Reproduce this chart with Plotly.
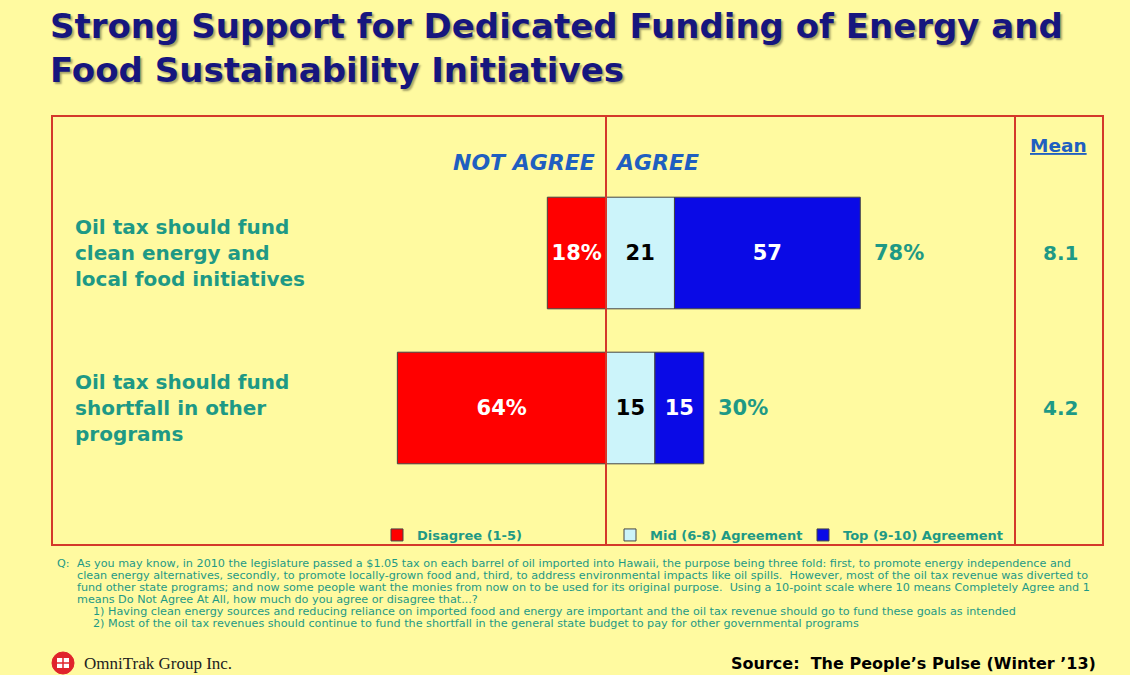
import plotly.graph_objects as go

# ---------------- data ----------------
statements = [
    "Oil tax should fund<br>clean energy and<br>local food initiatives",
    "Oil tax should fund<br>shortfall in other<br>programs",
]
disagree = [18, 64]          # Disagree (1-5), %
mid_agree = [21, 15]         # Mid (6-8) Agreement, %
top_agree = [57, 15]         # Top (9-10) Agreement, %
mean_scores = ["8.1", "4.2"]
series_names = ["Disagree (1-5)", "Mid (6-8) Agreement", "Top (9-10) Agreement"]

title_text = ("Strong Support for Dedicated Funding of Energy and<br>"
              "Food Sustainability Initiatives")
question_lines = [
    "As you may know, in 2010 the legislature passed a $1.05 tax on each barrel of oil imported into Hawaii, the purpose being three fold: first, to promote energy independence and",
    "clean energy alternatives, secondly, to promote locally-grown food and, third, to address environmental impacts like oil spills.  However, most of the oil tax revenue was diverted to",
    "fund other state programs; and now some people want the monies from now on to be used for its original purpose.  Using a 10-point scale where 10 means Completely Agree and 1",
    "means Do Not Agree At All, how much do you agree or disagree that...?",
]
item_lines = [
    "1) Having clean energy sources and reducing reliance on imported food and energy are important and the oil tax revenue should go to fund these goals as intended",
    "2) Most of the oil tax revenues should continue to fund the shortfall in the general state budget to pay for other governmental programs",
]
source_text = "Source:  The People\u2019s Pulse (Winter \u201913)"
company_text = "OmniTrak Group Inc."

# ---------------- style ----------------
BG = "#FFFAA0"
RED_LINE = "#D4382A"
TEAL = "#1E9985"
BLUE_HDR = "#1F5FC0"
NAVY = "#16167E"
FONT = "DejaVu Sans"

W, H = 1130, 675
L, R, T, B = 52, 1103, 116, 545      # plot box in px


def px_x(px):
    return (px - L) / (R - L)


def px_y(py):
    return (B - py) / (B - T)


fig = go.Figure()

bar_line = dict(color="#444444", width=1)
fig.add_trace(go.Bar(
    y=statements, x=[-v for v in disagree], orientation="h",
    name=series_names[0], marker=dict(color="#FF0000", line=bar_line),
    text=[f"{v}%" for v in disagree], textposition="inside", insidetextanchor="middle",
    textfont=dict(family=FONT, size=21, color="white", weight="bold"),
    constraintext="none", width=0.72, legend="legend", hoverinfo="skip",
))
fig.add_trace(go.Bar(
    y=statements, x=mid_agree, orientation="h",
    name=series_names[1], marker=dict(color="#CCF4FA", line=bar_line),
    text=[str(v) for v in mid_agree], textposition="inside", insidetextanchor="middle",
    textfont=dict(family=FONT, size=21, color="black", weight="bold"),
    constraintext="none", width=0.72, legend="legend2", hoverinfo="skip",
))
fig.add_trace(go.Bar(
    y=statements, x=top_agree, orientation="h",
    name=series_names[2], marker=dict(color="#0A0AE6", line=bar_line),
    text=[str(v) for v in top_agree], textposition="inside", insidetextanchor="middle",
    textfont=dict(family=FONT, size=21, color="white", weight="bold"),
    constraintext="none", width=0.72, legend="legend3", hoverinfo="skip",
))

annotations = []
# net agree labels
for s, m, t in zip(statements, mid_agree, top_agree):
    annotations.append(dict(
        x=m + t, y=s, xref="x", yref="y", text=f"{m + t}%", showarrow=False,
        xanchor="left", xshift=12,
        font=dict(family=FONT, size=21, color=TEAL, weight="bold")))
# mean column
for s, mv in zip(statements, mean_scores):
    annotations.append(dict(
        x=px_x(1060), y=s, xref="paper", yref="y", text=mv, showarrow=False,
        xanchor="center", font=dict(family=FONT, size=20, color=TEAL, weight="bold")))
annotations.append(dict(
    x=px_x(1058), y=px_y(145), xref="paper", yref="paper", text="Mean", showarrow=False,
    xanchor="center", yanchor="middle",
    font=dict(family=FONT, size=18.5, color=BLUE_HDR, weight="bold", lineposition="under")))
# NOT AGREE / AGREE headers
hdr_font = dict(family=FONT, size=22, color=BLUE_HDR, weight="bold", style="italic")
annotations.append(dict(
    x=0, y=px_y(163), xref="x", yref="paper", text="NOT AGREE", showarrow=False,
    xanchor="right", xshift=-9, yanchor="middle", font=hdr_font))
annotations.append(dict(
    x=0, y=px_y(163), xref="x", yref="paper", text="AGREE", showarrow=False,
    xanchor="left", xshift=7, yanchor="middle", font=hdr_font))
# question footnote
foot_font = dict(family=FONT, size=11.2, color=TEAL)
annotations.append(dict(
    x=px_x(55), y=px_y(563), xref="paper", yref="paper", text="Q:", showarrow=False,
    xanchor="left", yanchor="middle", font=foot_font))
for line, yy in zip(question_lines, [563, 575, 587, 599]):
    annotations.append(dict(
        x=px_x(75), y=px_y(yy), xref="paper", yref="paper", text=line, showarrow=False,
        xanchor="left", yanchor="middle", font=foot_font))
for line, yy in zip(item_lines, [611, 623]):
    annotations.append(dict(
        x=px_x(91), y=px_y(yy), xref="paper", yref="paper", text=line, showarrow=False,
        xanchor="left", yanchor="middle", font=foot_font))
# footer
annotations.append(dict(
    x=px_x(82), y=px_y(663), xref="paper", yref="paper", text=company_text, showarrow=False,
    xanchor="left", yanchor="middle", font=dict(family="Liberation Serif", size=17, color="#222222")))
annotations.append(dict(
    x=px_x(1098), y=px_y(663), xref="paper", yref="paper", text=source_text, showarrow=False,
    xanchor="right", yanchor="middle", font=dict(family=FONT, size=16, color="black", weight="bold")))

shapes = [
    # outer box
    dict(type="rect", xref="paper", yref="paper", x0=0, x1=1, y0=0, y1=1,
         line=dict(color=RED_LINE, width=2), layer="above"),
    # zero line
    dict(type="line", xref="x", yref="paper", x0=0, x1=0, y0=0, y1=1,
         line=dict(color=RED_LINE, width=2), layer="above"),
    # mean column separator
    dict(type="line", xref="paper", yref="paper", x0=px_x(1015), x1=px_x(1015), y0=0, y1=1,
         line=dict(color=RED_LINE, width=2)),
    # logo
    dict(type="circle", xref="paper", yref="paper",
         x0=px_x(52), x1=px_x(74), y0=px_y(674), y1=px_y(652),
         fillcolor="#E0242C", line=dict(color="#E0242C", width=1)),
    dict(type="rect", xref="paper", yref="paper",
         x0=px_x(57), x1=px_x(69), y0=px_y(668), y1=px_y(658),
         fillcolor="white", line=dict(color="white", width=0)),
    dict(type="line", xref="paper", yref="paper",
         x0=px_x(63), x1=px_x(63), y0=px_y(668), y1=px_y(658),
         line=dict(color="#E0242C", width=1.5)),
    dict(type="line", xref="paper", yref="paper",
         x0=px_x(57), x1=px_x(69), y0=px_y(663), y1=px_y(663),
         line=dict(color="#E0242C", width=1.5)),
]

ppu = 3.26  # pixels per percentage point
x_range = [-(606 - L) / ppu, (R - 606) / ppu]
row_px = 155.0
y_range = [-(B - 408) / row_px, 1 + (253 - T) / row_px]

legend_font = dict(family=FONT, size=13, color=TEAL, weight="bold")


def leg(px):
    return dict(x=px_x(px), y=px_y(535), xanchor="left", yanchor="middle",
                orientation="h", bgcolor="rgba(0,0,0,0)", font=legend_font)


fig.update_layout(
    width=W, height=H,
    margin=dict(l=L, r=W - R, t=T, b=H - B, autoexpand=False),
    paper_bgcolor=BG, plot_bgcolor=BG,
    barmode="relative",
    title=dict(text=title_text, x=50 / W, xref="container", xanchor="left",
               y=1 - 38 / H, yref="container", yanchor="top",
               font=dict(family=FONT, size=34, color=NAVY, weight="bold",
                         shadow="2px 2px 2px rgba(60,60,40,0.45)")),
    xaxis=dict(range=x_range, visible=False, fixedrange=True),
    yaxis=dict(type="category", categoryorder="array", categoryarray=statements[::-1],
               range=y_range, showgrid=False, zeroline=False, showline=False, ticks="",
               ticklabelposition="inside", ticklabelstandoff=20, fixedrange=True,
               tickfont=dict(family=FONT, size=20, color=TEAL, weight="bold")),
    showlegend=True,
    legend=leg(377),
    legend2=leg(610),
    legend3=leg(803),
    annotations=annotations,
    shapes=shapes,
)

fig.write_html(
    "out.html",
    config={"displayModeBar": False},
    post_script="document.body.style.margin='0';document.body.style.overflow='hidden';",
)
